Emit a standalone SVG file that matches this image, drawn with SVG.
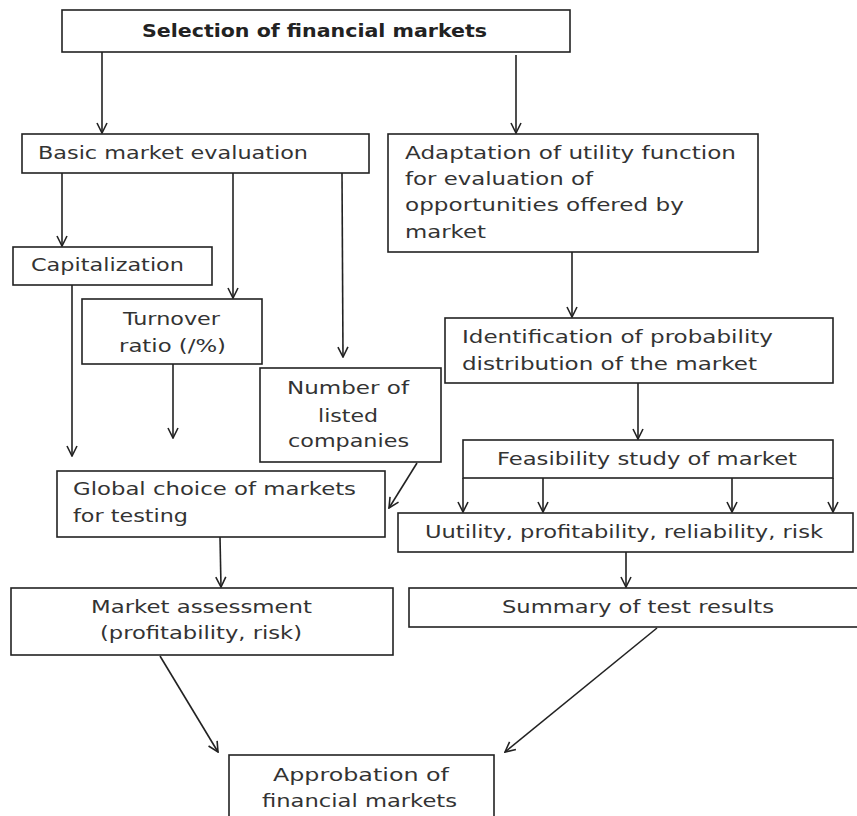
<svg xmlns="http://www.w3.org/2000/svg" width="857" height="816" viewBox="0 0 857 816">
<style>
.box{fill:#fff;stroke:#222;stroke-width:1.6}
.t{font-family:"DejaVu Sans","Liberation Sans",sans-serif;font-size:17px;fill:#333}
.b{font-weight:bold;fill:#222}
.c{stroke:#222;stroke-width:1.6;fill:none;marker-end:url(#ah)}
</style>
<defs>
<marker id="ah" viewBox="0 0 12 12" refX="11" refY="6" markerWidth="12" markerHeight="12" markerUnits="userSpaceOnUse" orient="auto">
<path d="M1,1 L11,6 L1,11" fill="none" stroke="#222" stroke-width="1.6"/>
</marker>
</defs>
<rect width="857" height="816" fill="#fff"/>
<g id="connectors">
<line class="c" x1="102" y1="52" x2="102" y2="133"/>
<line class="c" x1="516" y1="55" x2="516" y2="133"/>
<line class="c" x1="62" y1="173" x2="62" y2="246"/>
<line class="c" x1="233" y1="173" x2="233" y2="298"/>
<line class="c" x1="342" y1="173" x2="343" y2="357"/>
<line class="c" x1="72" y1="285" x2="72" y2="456"/>
<line class="c" x1="173" y1="364" x2="173" y2="438"/>
<line class="c" x1="417" y1="463" x2="389" y2="508"/>
<line class="c" x1="572" y1="252" x2="572" y2="317"/>
<line class="c" x1="638" y1="383" x2="638" y2="439"/>
<line class="c" x1="463" y1="478" x2="463" y2="512"/>
<line class="c" x1="543" y1="478" x2="543" y2="512"/>
<line class="c" x1="732" y1="478" x2="732" y2="512"/>
<line class="c" x1="833" y1="478" x2="833" y2="512"/>
<line class="c" x1="220" y1="537" x2="221" y2="587"/>
<line class="c" x1="626" y1="552" x2="626" y2="587"/>
<line class="c" x1="160" y1="656" x2="218" y2="752"/>
<line class="c" x1="657" y1="628" x2="505" y2="752"/>
</g>
<g id="n1"><rect class="box" x="62" y="10" width="508" height="42"/>
<text class="t b" x="142" y="37" textLength="345" lengthAdjust="spacingAndGlyphs">Selection of financial markets</text></g>
<g id="n2"><rect class="box" x="22" y="134" width="347" height="39"/>
<text class="t" x="38" y="159" textLength="270" lengthAdjust="spacingAndGlyphs">Basic market evaluation</text></g>
<g id="n3"><rect class="box" x="388" y="134" width="370" height="118"/>
<text class="t" x="405" y="159" textLength="331" lengthAdjust="spacingAndGlyphs">Adaptation of utility function</text>
<text class="t" x="405" y="185" textLength="188" lengthAdjust="spacingAndGlyphs">for evaluation of</text>
<text class="t" x="405" y="211" textLength="279" lengthAdjust="spacingAndGlyphs">opportunities offered by</text>
<text class="t" x="405" y="238" textLength="81" lengthAdjust="spacingAndGlyphs">market</text></g>
<g id="n4"><rect class="box" x="13" y="247" width="199" height="38"/>
<text class="t" x="31" y="271" textLength="153" lengthAdjust="spacingAndGlyphs">Capitalization</text></g>
<g id="n5"><rect class="box" x="82" y="299" width="180" height="65"/>
<text class="t" x="123" y="325" textLength="97" lengthAdjust="spacingAndGlyphs">Turnover</text>
<text class="t" x="119" y="352" textLength="107" lengthAdjust="spacingAndGlyphs">ratio (/%)</text></g>
<g id="n6"><rect class="box" x="260" y="368" width="181" height="94"/>
<text class="t" x="287" y="394" textLength="122" lengthAdjust="spacingAndGlyphs">Number of</text>
<text class="t" x="318" y="422" textLength="60" lengthAdjust="spacingAndGlyphs">listed</text>
<text class="t" x="288" y="447" textLength="121" lengthAdjust="spacingAndGlyphs">companies</text></g>
<g id="n7"><rect class="box" x="57" y="471" width="328" height="66"/>
<text class="t" x="73" y="495" textLength="283" lengthAdjust="spacingAndGlyphs">Global choice of markets</text>
<text class="t" x="73" y="522" textLength="115" lengthAdjust="spacingAndGlyphs">for testing</text></g>
<g id="n8"><rect class="box" x="445" y="318" width="388" height="65"/>
<text class="t" x="462" y="343" textLength="311" lengthAdjust="spacingAndGlyphs">Identification of probability</text>
<text class="t" x="462" y="370" textLength="295" lengthAdjust="spacingAndGlyphs">distribution of the market</text></g>
<g id="n9"><rect class="box" x="463" y="440" width="370" height="38"/>
<text class="t" x="497" y="465" textLength="300" lengthAdjust="spacingAndGlyphs">Feasibility study of market</text></g>
<g id="n10"><rect class="box" x="398" y="513" width="455" height="39"/>
<text class="t" x="425" y="538" textLength="398" lengthAdjust="spacingAndGlyphs">Uutility, profitability, reliability, risk</text></g>
<g id="n11"><rect class="box" x="11" y="588" width="382" height="67"/>
<text class="t" x="91" y="613" textLength="221" lengthAdjust="spacingAndGlyphs">Market assessment</text>
<text class="t" x="100" y="639" textLength="202" lengthAdjust="spacingAndGlyphs">(profitability, risk)</text></g>
<g id="n12"><rect class="box" x="409" y="588" width="460" height="39"/>
<text class="t" x="502" y="613" textLength="272" lengthAdjust="spacingAndGlyphs">Summary of test results</text></g>
<g id="n13"><rect class="box" x="229" y="755" width="265" height="80"/>
<text class="t" x="273" y="781" textLength="176" lengthAdjust="spacingAndGlyphs">Approbation of</text>
<text class="t" x="262" y="807" textLength="195" lengthAdjust="spacingAndGlyphs">financial markets</text></g>
</svg>
